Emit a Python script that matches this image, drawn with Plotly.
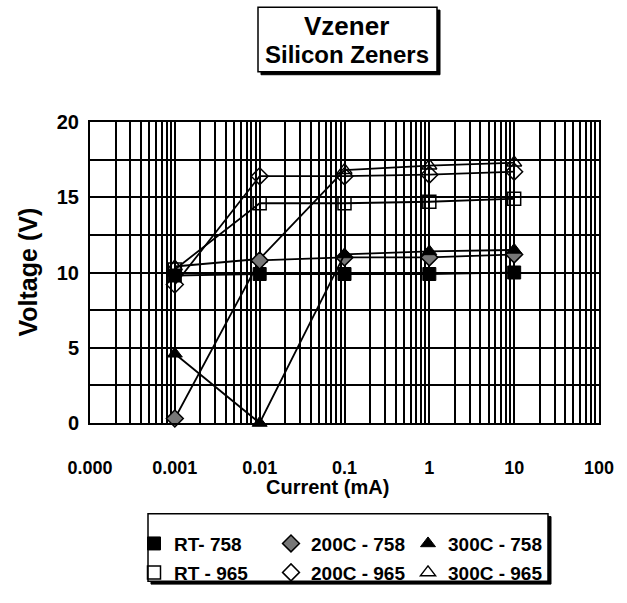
import plotly.graph_objects as go

# ---- data ----
current_mA = [0.001, 0.01, 0.1, 1, 10]
rt_758 = [9.8, 9.9, 9.9, 9.9, 10.0]
rt_965 = [10.2, 14.6, 14.6, 14.7, 14.9]
c200_758 = [0.3, 10.8, 11.0, 11.0, 11.2]
c200_965 = [9.2, 16.4, 16.4, 16.5, 16.7]
c300_758 = [4.6, 0.0, 11.2, 11.4, 11.5]
c300_965 = [10.4, 10.9, 16.8, 17.1, 17.3]

series_names = ["RT- 758", "200C - 758", "300C - 758", "RT - 965", "200C - 965", "300C - 965"]
series_values = [rt_758, c200_758, c300_758, rt_965, c200_965, c300_965]

x_tick_vals = [0.0001, 0.001, 0.01, 0.1, 1, 10, 100]
x_tick_text = ["0.000", "0.001", "0.01", "0.1", "1", "10", "100"]
y_tick_vals = [0, 5, 10, 15, 20]

# ---- styles ----
styles = [
    dict(symbol="square", color="black", line=dict(color="black", width=1)),
    dict(symbol="diamond", color="#777777", line=dict(color="black", width=1.5)),
    dict(symbol="triangle-up", color="black", line=dict(color="black", width=1)),
    dict(symbol="square-open", color="black", line=dict(color="black", width=1.5)),
    dict(symbol="diamond-open", color="black", line=dict(color="black", width=1.5)),
    dict(symbol="triangle-up-open", color="black", line=dict(color="black", width=1.5)),
]
draw_order = [3, 4, 5, 0, 1, 2]

FONT = "Liberation Sans, Arial, sans-serif"
W, H = 627, 603
L, R, T, B = 90, 28, 122, 169
PW, PH = W - L - R, H - T - B


def px_x(p):
    return (p - L) / PW


def px_y(p):
    return (H - B - p) / PH


fig = go.Figure()

for i in draw_order:
    st = styles[i]
    fig.add_trace(go.Scatter(
        x=current_mA, y=series_values[i], mode="lines+markers",
        line=dict(color="black", width=1.8),
        marker=dict(symbol=st["symbol"], size=13, color=st["color"],
                    line=st["line"]),
        showlegend=False, cliponaxis=False, hoverinfo="skip"))

# legend-only entries (markers only), two rows in two legends
for i in range(6):
    st = styles[i]
    fig.add_trace(go.Scatter(
        x=[None], y=[None], mode="markers", name=series_names[i],
        marker=dict(symbol=st["symbol"], size=13, color=st["color"], line=st["line"]),
        legend="legend" if i < 3 else "legend2"))

minor_x = [k * 10.0 ** e for e in range(-4, 2) for k in range(2, 10)]

fig.update_xaxes(
    type="log", range=[-4, 2],
    tickmode="array", tickvals=x_tick_vals, ticktext=x_tick_text,
    tickfont=dict(family=FONT, size=18, color="black", weight="bold"),
    ticks="", ticklabelstandoff=27,
    showgrid=True, gridcolor="black", gridwidth=1.5,
    minor=dict(tickmode="array", tickvals=minor_x, showgrid=True,
               gridcolor="black", gridwidth=1.5, ticks=""),
    showline=True, linecolor="black", linewidth=2, mirror=True, zeroline=False)

fig.update_yaxes(
    range=[0, 20], tickmode="array", tickvals=y_tick_vals,
    tickfont=dict(family=FONT, size=20, color="black", weight="bold"),
    ticks="", ticklabelstandoff=5,
    showgrid=True, gridcolor="black", gridwidth=1.5,
    minor=dict(dtick=2.5, showgrid=True, gridcolor="black", gridwidth=1.5, ticks=""),
    showline=True, linecolor="black", linewidth=2, mirror=True, zeroline=False)

legend_common = dict(
    orientation="h", xanchor="left", yanchor="middle",
    font=dict(family=FONT, size=19, color="black", weight="bold"),
    bgcolor="rgba(0,0,0,0)", borderwidth=0,
    entrywidth=92, entrywidthmode="pixels", itemwidth=30)

fig.update_layout(
    width=W, height=H,
    margin=dict(l=L, r=R, t=T, b=B, pad=0),
    paper_bgcolor="white", plot_bgcolor="white",
    font=dict(family=FONT, color="black"),
    legend=dict(x=px_x(134), y=px_y(559), **legend_common),
    legend2=dict(x=px_x(134), y=px_y(589), **legend_common),
    shapes=[
        # title box shadow + box
        dict(type="rect", xref="paper", yref="paper",
             x0=px_x(261), x1=px_x(440), y0=px_y(73), y1=px_y(6),
             line=dict(color="black", width=1), fillcolor="black", layer="below"),
        dict(type="rect", xref="paper", yref="paper",
             x0=px_x(258), x1=px_x(437), y0=px_y(70), y1=px_y(3),
             line=dict(color="black", width=1.5), fillcolor="white", layer="below"),
        # legend box shadow + box
        dict(type="rect", xref="paper", yref="paper",
             x0=px_x(151), x1=px_x(551), y0=px_y(601), y1=px_y(531),
             line=dict(color="black", width=1), fillcolor="black", layer="below"),
        dict(type="rect", xref="paper", yref="paper",
             x0=px_x(148), x1=px_x(548), y0=px_y(598), y1=px_y(528),
             line=dict(color="black", width=1.5), fillcolor="white", layer="below"),
    ],
    annotations=[
        dict(text="<b>Vzener</b>", xref="paper", yref="paper",
             x=px_x(346), y=px_y(22), xanchor="center", yanchor="middle",
             showarrow=False, font=dict(family=FONT, size=26, color="black")),
        dict(text="<b>Silicon Zeners</b>", xref="paper", yref="paper",
             x=px_x(347), y=px_y(52), xanchor="center", yanchor="middle",
             showarrow=False, font=dict(family=FONT, size=24, color="black")),
        dict(text="<b>Voltage (V)</b>", xref="paper", yref="paper",
             x=px_x(27), y=px_y(278), xanchor="center", yanchor="middle",
             showarrow=False, textangle=-90,
             font=dict(family=FONT, size=25, color="black")),
        dict(text="<b>Current (mA)</b>", xref="paper", yref="paper",
             x=px_x(327), y=px_y(500), xanchor="center", yanchor="middle",
             showarrow=False, font=dict(family=FONT, size=20, color="black")),
    ],
)

fig.write_html("out.html", config={"displayModeBar": False},
               post_script="document.body.style.margin='0px';")
